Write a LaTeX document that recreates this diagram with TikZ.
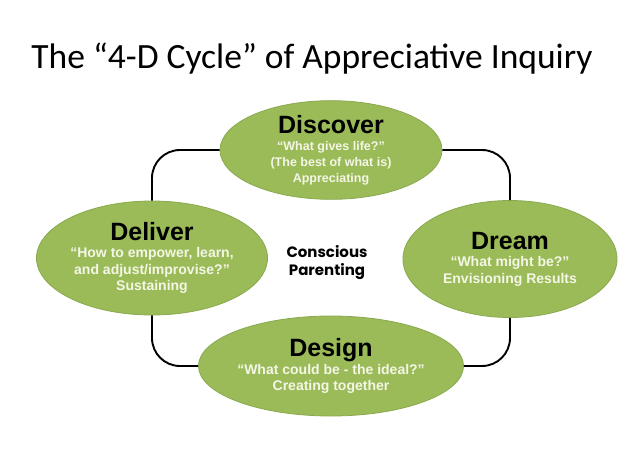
\documentclass[tikz,border=0pt]{standalone}
\usepackage{fontspec}
\setsansfont{Liberation Sans}
\newfontfamily\titlefont{Carlito}
\newfontfamily\gothicfont{Poppins}
\usetikzlibrary{shapes.geometric}
\definecolor{leaf}{HTML}{9BBB59}
\definecolor{leafline}{HTML}{8AA94F}
\definecolor{cream}{HTML}{F4F6E6}
\newcommand{\head}[1]{{\color{black}\fontsize{25}{28}\selectfont #1}\\[1pt]}

\begin{document}
\begin{tikzpicture}[x=1pt,y=-1pt,
  phase/.style={ellipse,fill=leaf,draw=leafline,line width=0.8pt,
    inner sep=0pt,align=center,text=cream,
    font=\sffamily\bfseries\fontsize{14}{16.5}\selectfont},
  link/.style={line width=1.9pt,rounded corners=28pt}]
  \useasboundingbox (0,0) rectangle (630,453);

  \node[anchor=base] (title) at (312,68)
    {\titlefont\fontsize{35.5}{40}\selectfont The “4-D Cycle” of Appreciative Inquiry};

  % the four phases
  \node[phase,minimum width=222pt,minimum height=95pt,
    font=\sffamily\bfseries\fontsize{12.5}{16}\selectfont] (discover) at (331,150)
    {\head{Discover}“What gives life?”\\(The best of what is)\\Appreciating};
  \node[phase,minimum width=202pt,minimum height=114pt] (deliver) at (152,258)
    {\head{Deliver}“How to empower, learn,\\and adjust/improvise?”\\Sustaining};
  \node[phase,minimum width=214pt,minimum height=117pt] (dream) at (510,259)
    {\head{Dream}“What might be?”\\Envisioning Results};
  \node[phase,minimum width=228pt,minimum height=100pt] (design) at (331,366)
    {\head{Design}“What could be - the ideal?”\\Creating together};

  \node[align=center,font=\gothicfont\bfseries\fontsize{15}{18}\selectfont] (centre) at (327,263)
    {Conscious\\Parenting};

  % the cycle
  \draw[link] (deliver.north) |- (discover.west);
  \draw[link] (discover.east) -| (dream.north);
  \draw[link] (dream.south) |- (design.east);
  \draw[link] (design.west) -| (deliver.south);
\end{tikzpicture}
\end{document}
